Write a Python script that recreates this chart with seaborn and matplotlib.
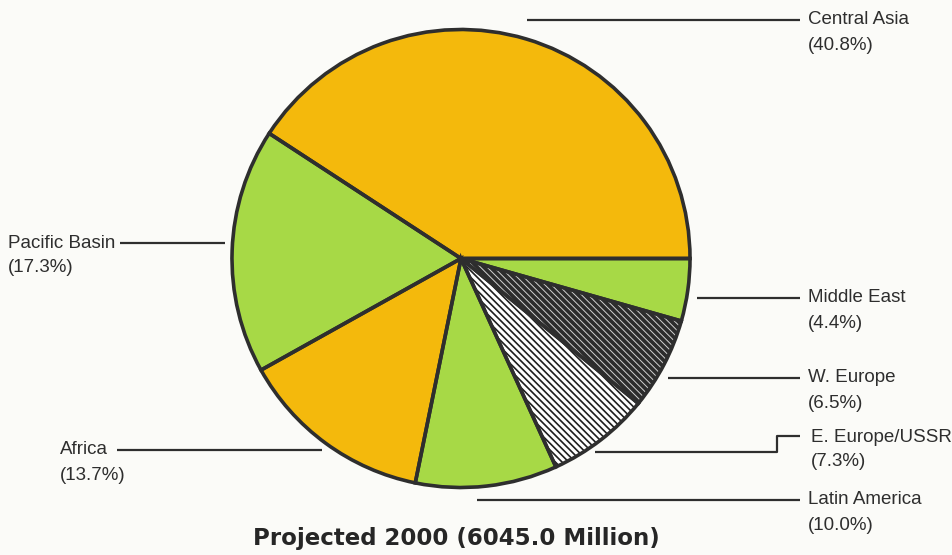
import matplotlib
matplotlib.use("Agg")
import matplotlib.pyplot as plt
import seaborn as sns

# Projected world population share by region, year 2000
regions = ["Central Asia", "Pacific Basin", "Africa", "Latin America",
           "E. Europe/USSR", "W. Europe", "Middle East"]
shares = [40.8, 17.3, 13.7, 10.0, 7.3, 6.5, 4.4]
total_millions = 6045.0

ORANGE = "#F4B90C"
GREEN = "#A7D946"
DARK = "#2c2c2c"
WHITE = "#ffffff"
INK = "#2e2e2e"

fills = [ORANGE, GREEN, ORANGE, GREEN, WHITE, DARK, GREEN]
hatches = [None, None, None, None, "\\" * 5, "\\" * 5, None]
hatch_ink = [INK, INK, INK, INK, "#1e1e1e", "#d0d0d0", INK]
hatch_width = [1.0, 1.0, 1.0, 1.0, 1.2, 0.7, 1.0]

sns.set_theme(style="white")
plt.rcParams["font.family"] = ["Liberation Sans", "DejaVu Sans"]
plt.rcParams["hatch.linewidth"] = 1.0

W, H = 953, 555
fig = plt.figure(figsize=(W / 100, H / 100), dpi=100)
paper = "#fbfbf8"
fig.patch.set_facecolor(paper)
ax = fig.add_axes([0, 0, 1, 1])
ax.set_facecolor(paper)


def Y(y):
    # layout positions are given from the top edge
    return H - y


cx, cy, r = 461, 258.5, 229

# filled wedges with hatching (hatch colour follows the edge colour)
wedges, _ = ax.pie(shares, colors=fills, startangle=0, counterclock=True,
                   center=(cx, Y(cy)), radius=r, frame=True,
                   wedgeprops=dict(linewidth=0))
for w, h, hc, hw in zip(wedges, hatches, hatch_ink, hatch_width):
    w.set_edgecolor(hc)
    if h:
        w.set_hatch(h)
        if hasattr(w, "set_hatch_linewidth"):
            w.set_hatch_linewidth(hw)

# dark outlines on top
ax.pie(shares, colors=["none"] * len(shares), startangle=0,
       counterclock=True, center=(cx, Y(cy)), radius=r, frame=True,
       wedgeprops=dict(linewidth=2.6, edgecolor=INK, fill=False))
ax.set_xlim(0, W)
ax.set_ylim(0, H)
ax.set_aspect("equal")
ax.axis("off")

# leader lines: (polyline points, text x, text y)
label_layout = {
    "Central Asia": ([(527, 20), (800, 20)], 808, 20),
    "Pacific Basin": ([(120, 243), (225, 243)], 8, 243),
    "Africa": ([(117, 450), (322, 450)], 60, 450),
    "Middle East": ([(697, 298), (800, 298)], 808, 298),
    "W. Europe": ([(668, 378), (800, 378)], 808, 378),
    "E. Europe/USSR": ([(595, 452), (777, 452), (777, 436), (800, 436)], 811, 437),
    "Latin America": ([(477, 500), (800, 500)], 808, 500),
}

fs = 13.5
for name, share in zip(regions, shares):
    pts, tx, ty = label_layout[name]
    xs = [p[0] for p in pts]
    ys = [Y(p[1]) for p in pts]
    ax.plot(xs, ys, color=INK, lw=1.6, solid_capstyle="butt")
    ax.text(tx, Y(ty), name, ha="left", va="center", fontsize=fs, color=INK)
    ax.text(tx, Y(ty + 25), f"({share:.1f}%)", ha="left", va="center",
            fontsize=fs, color=INK)

ax.text(456, Y(538), f"Projected 2000 ({total_millions:.1f} Million)",
        ha="center", va="center", fontsize=16.5, fontweight="bold",
        color="#262626", family=["DejaVu Sans"])

fig.savefig("out.png", dpi=100, facecolor=paper)
